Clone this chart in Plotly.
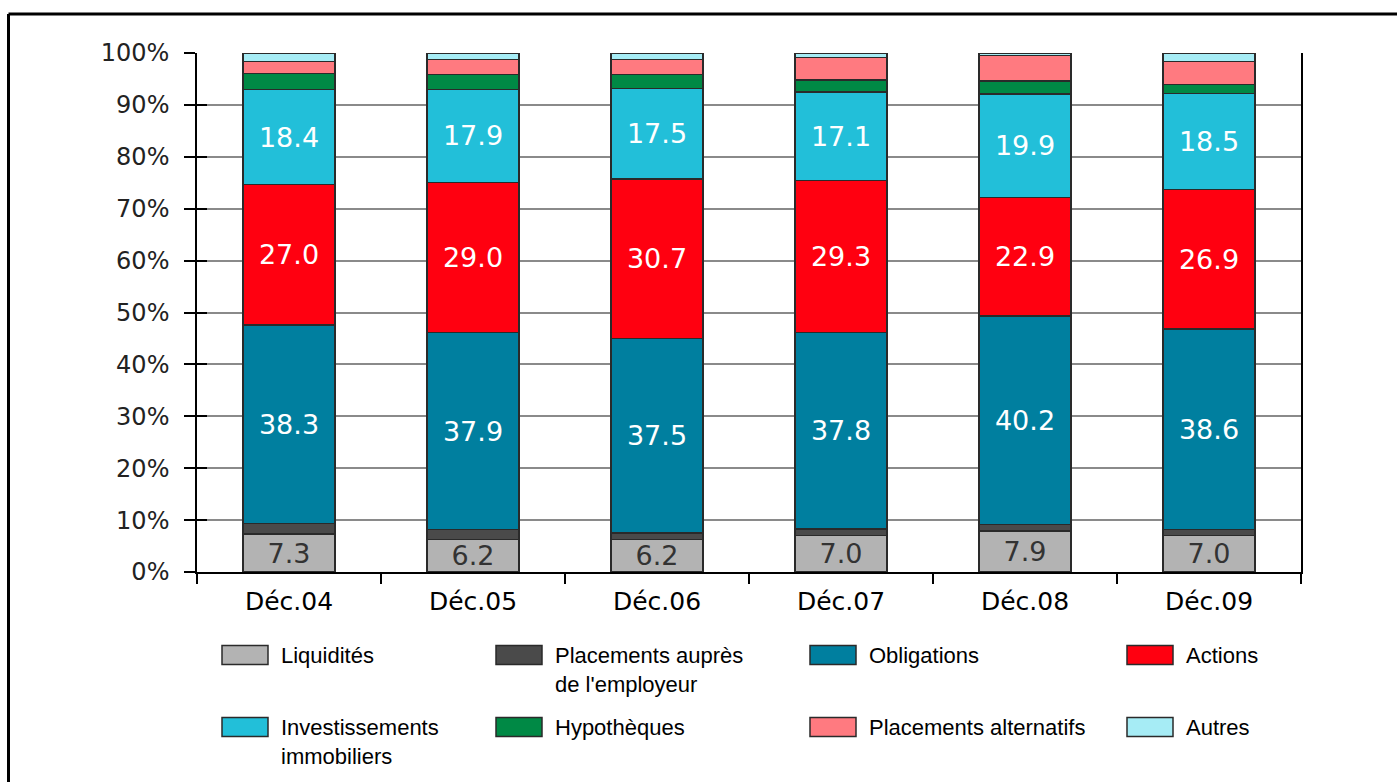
import plotly.graph_objects as go

# Asset allocation by year-end, in percent of total assets
categories = ["Déc.04", "Déc.05", "Déc.06", "Déc.07", "Déc.08", "Déc.09"]

liquidites = [7.3, 6.2, 6.2, 7.0, 7.9, 7.0]
employeur = [2.0, 2.0, 1.3, 1.3, 1.2, 1.2]
obligations = [38.3, 37.9, 37.5, 37.8, 40.2, 38.6]
actions = [27.0, 29.0, 30.7, 29.3, 22.9, 26.9]
immobiliers = [18.4, 17.9, 17.5, 17.1, 19.9, 18.5]
hypotheques = [3.1, 2.9, 2.6, 2.3, 2.5, 1.7]
alternatifs = [2.3, 2.8, 3.0, 4.3, 4.9, 4.5]
autres = [1.6, 1.3, 1.2, 0.9, 0.5, 1.6]

y_ticks = list(range(0, 101, 10))
y_tick_labels = [f"{v}%" for v in y_ticks]

series_names = [
    "Liquidités",
    "Placements auprès<br>de l'employeur",
    "Obligations",
    "Actions",
    "Investissements<br>immobiliers",
    "Hypothèques",
    "Placements alternatifs",
    "Autres",
]
series_values = [liquidites, employeur, obligations, actions,
                 immobiliers, hypotheques, alternatifs, autres]
series_colors = ["#b3b3b3", "#4a4a4a", "#007f9f", "#ff0010",
                 "#22bfd9", "#008945", "#ff7a80", "#a6ecf5"]
# which series carry value labels, and in which colour
label_colors = ["#333333", None, "white", "white", "white", None, None, None]

W, H = 1397, 782
L, R, T, B = 197, 96, 53, 210
PW, PH = W - L - R, H - T - B

def px_x(px):
    return (px - L) / PW

def px_y(py):
    return (H - B - py) / PH

num_font = "DejaVu Sans"
leg_font = "Liberation Sans, Arial, sans-serif"

fig = go.Figure()
for name, vals, col, lc in zip(series_names, series_values, series_colors, label_colors):
    fig.add_trace(go.Bar(
        x=categories, y=vals, name=name,
        marker=dict(color=col, line=dict(color="#2a2a2a", width=1.3)),
        text=[f"{v:.1f}" for v in vals] if lc else None,
        textposition="inside" if lc else "none",
        insidetextanchor="middle",
        constraintext="none",
        textfont=dict(family=num_font, size=27, color=lc if lc else "white"),
        showlegend=False,
        hoverinfo="skip",
    ))

# invisible point so the overlaid axis (inner half of the y ticks) is drawn
fig.add_trace(go.Scatter(x=[categories[0]], y=[0], yaxis="y2", mode="markers",
                         marker=dict(opacity=0), showlegend=False, hoverinfo="skip"))

fig.update_layout(
    width=W, height=H,
    margin=dict(l=L, r=R, t=T, b=B, pad=0),
    barmode="stack",
    bargap=0.5,
    plot_bgcolor="white",
    paper_bgcolor="white",
    showlegend=False,
    xaxis=dict(
        type="category",
        tickson="boundaries",
        ticks="outside", ticklen=10, tickwidth=1.5, tickcolor="black",
        ticklabelstandoff=6,
        showline=True, linecolor="black", linewidth=1.5,
        showgrid=False,
        tickfont=dict(family=num_font, size=25, color="black"),
    ),
    yaxis=dict(
        range=[0, 100],
        tickmode="array",
        tickvals=y_ticks,
        ticktext=y_tick_labels,
        ticks="outside", ticklen=11, tickwidth=1.5, tickcolor="black",
        ticklabelstandoff=10,
        showline=True, linecolor="black", linewidth=1.5, mirror=True,
        showgrid=True, gridcolor="#8a8a8a", gridwidth=1.5,
        zeroline=False,
        tickfont=dict(family=num_font, size=24, color="#222222"),
    ),
    yaxis2=dict(
        range=[0, 100], overlaying="y", side="left", anchor="x",
        tickmode="array", tickvals=y_ticks,
        ticks="inside", ticklen=10, tickwidth=1.5, tickcolor="black",
        showticklabels=False, showgrid=False, showline=False, zeroline=False,
    ),
)

shapes = []
annotations = []

# frame around the figure
shapes.append(dict(type="line", xref="paper", yref="paper",
                   x0=px_x(8.5), x1=px_x(W + 5), y0=px_y(14), y1=px_y(14),
                   line=dict(color="black", width=3)))
shapes.append(dict(type="line", xref="paper", yref="paper",
                   x0=px_x(8.5), x1=px_x(8.5), y0=px_y(14), y1=px_y(H + 5),
                   line=dict(color="black", width=3)))

# legend: two rows of four swatches
col_x = [222, 496, 810, 1127]
row_y = [655, 727]
sw_w, sw_h = 46, 19
for i, (name, col) in enumerate(zip(series_names, series_colors)):
    cx = col_x[i % 4]
    cy = row_y[i // 4]
    shapes.append(dict(type="rect", xref="paper", yref="paper",
                       x0=px_x(cx), x1=px_x(cx + sw_w),
                       y0=px_y(cy - sw_h / 2), y1=px_y(cy + sw_h / 2),
                       fillcolor=col, line=dict(color="#2a2a2a", width=1.5)))
    annotations.append(dict(xref="paper", yref="paper",
                            x=px_x(cx + sw_w + 11), y=px_y(cy - 14),
                            xanchor="left", yanchor="top", align="left",
                            text=name, showarrow=False,
                            font=dict(family=leg_font, size=22, color="black")))

fig.update_layout(shapes=shapes, annotations=annotations)
fig.write_html("out.html")
